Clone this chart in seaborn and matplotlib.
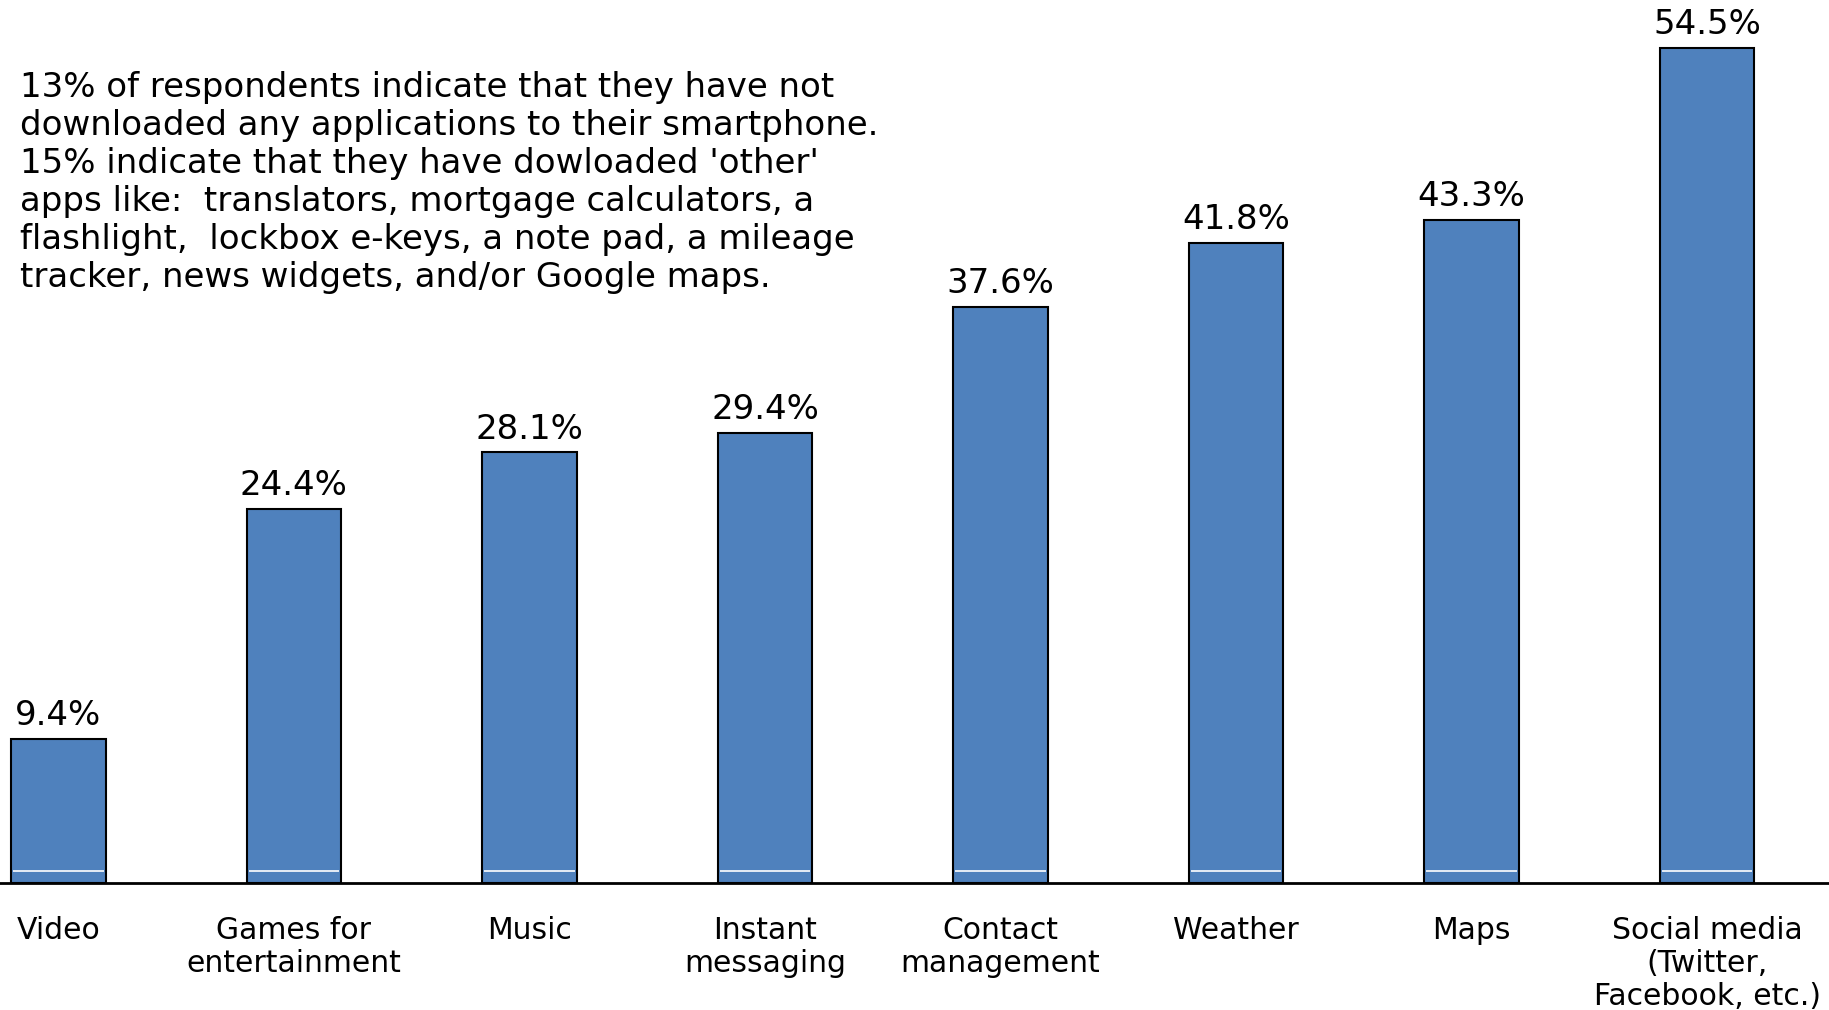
import matplotlib
matplotlib.use("Agg")
import matplotlib.pyplot as plt
import seaborn as sns
import pandas as pd

categories = [
    "Video",
    "Games for\nentertainment",
    "Music",
    "Instant\nmessaging",
    "Contact\nmanagement",
    "Weather",
    "Maps",
    "Social media\n(Twitter,\nFacebook, etc.)",
]
values = [9.4, 24.4, 28.1, 29.4, 37.6, 41.8, 43.3, 54.5]
value_labels = ["9.4%", "24.4%", "28.1%", "29.4%", "37.6%", "41.8%", "43.3%", "54.5%"]

note = (
    "13% of respondents indicate that they have not\n"
    "downloaded any applications to their smartphone.\n"
    "15% indicate that they have dowloaded 'other'\n"
    "apps like:  translators, mortgage calculators, a\n"
    "flashlight,  lockbox e-keys, a note pad, a mileage\n"
    "tracker, news widgets, and/or Google maps."
)

sns.set_style("white")
plt.rcParams["font.family"] = ["DejaVu Sans"]

df = pd.DataFrame({"category": categories, "value": values})

fig = plt.figure(figsize=(18.29, 10.10), dpi=100)
ax = fig.add_axes([0.0, 0.1257, 1.0, 0.8743])

sns.barplot(
    data=df, x="category", y="value", ax=ax,
    color="#4F81BD", saturation=1, width=0.4,
    edgecolor="black", linewidth=1.5,
)

# thin white highlight line near the bottom of each bar
for p in ax.patches:
    x0 = p.get_x()
    x1 = x0 + p.get_width()
    ax.hlines(0.78, x0 + 0.008, x1 - 0.008, color="white", lw=1.2, zorder=3)

ax.bar_label(ax.containers[0], labels=value_labels, padding=5, fontsize=24.5, color="black")

ax.set_xlim(-0.248, 7.518)
ax.set_ylim(0, 57.63)
ax.set_yticks([])
ax.set_xlabel("")
ax.set_ylabel("")
for s in ["left", "right", "top"]:
    ax.spines[s].set_visible(False)
ax.spines["bottom"].set_color("black")
ax.spines["bottom"].set_linewidth(2)
ax.tick_params(axis="x", length=0, pad=24, colors="black")
for lbl in ax.get_xticklabels():
    lbl.set_fontsize(21.5)
    lbl.set_linespacing(1.17)
    lbl.set_color("black")
    lbl.set_horizontalalignment("center")
    lbl.set_verticalalignment("top")

fig.text(20 / 1829, 1 - 71 / 1010, note, ha="left", va="top",
         fontsize=24.5, linespacing=1.19, color="black")

fig.savefig("out.png", dpi=100)
